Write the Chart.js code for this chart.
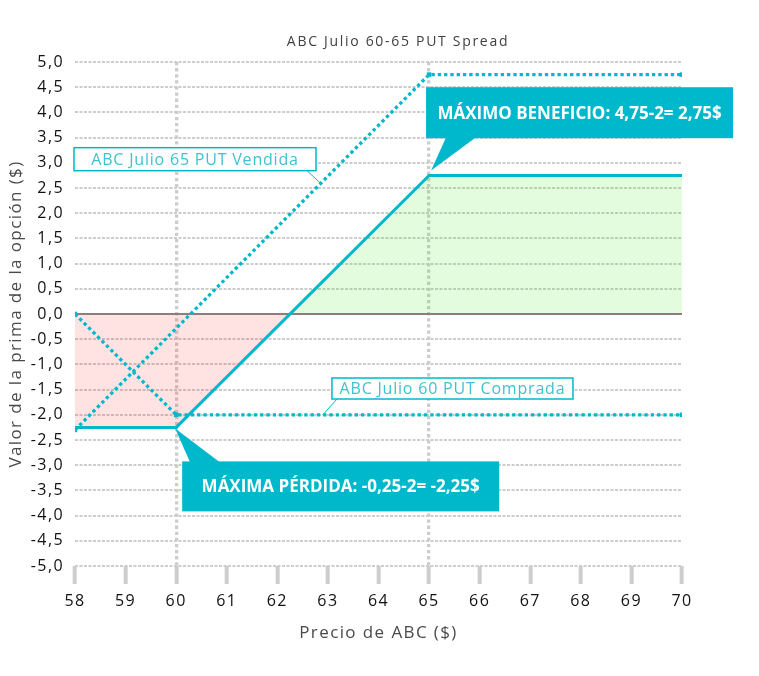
<!DOCTYPE html>
<html>
<head>
<meta charset="utf-8">
<script src="https://cdn.jsdelivr.net/npm/chart.js@4.4.0/dist/chart.umd.min.js"></script>
<style>
    html, body { margin: 0; padding: 0; background: #fff; }
    #chart { display: block; }
</style>
</head>
<body>
<canvas id="chart" width="759" height="676"></canvas>
<script>
const chartTitle = 'ABC Julio 60-65 PUT Spread';
const xTitle = 'Precio de ABC ($)';
const yTitle = 'Valor de la prima de la opción ($)';

// --- Data ---
const spreadPrices = [58, 60, 65, 70];
const spreadValues = [-2.25, -2.25, 2.75, 2.75];
const shortPutPrices = [58, 65, 70];
const shortPutValues = [-2.3, 4.75, 4.75];
const longPutPrices = [58, 60, 70];
const longPutValues = [0, -2, -2];
const zeroPrices = [58, 70];
const zeroValues = [0, 0];
const strikePrices = [60, 65];

const shortPutLabel = 'ABC Julio 65 PUT Vendida';
const longPutLabel = 'ABC Julio 60 PUT Comprada';
const profitText = 'MÁXIMO BENEFICIO: 4,75-2= 2,75$';
const lossText = 'MÁXIMA PÉRDIDA: -0,25-2= -2,25$';

const TEAL = '#00b8cc';
const GRID = '#cdcdcd';
const FONT = "'Open Sans', sans-serif";

const toPoints = (xs, ys) => xs.map((x, i) => ({ x, y: ys[i] }));

// wider letters, closer to the original geometric font
const spacingPlugin = {
    id: 'spacing',
    beforeLayout(chart) { chart.ctx.letterSpacing = '1.4px'; },
    beforeDraw(chart) { chart.ctx.letterSpacing = '1.4px'; }
};

// --- Title, callouts & label boxes ---
const calloutPlugin = {
    id: 'callouts',
    afterDatasetsDraw(chart) {
        const { ctx, scales: { x, y } } = chart;
        ctx.save();

        ctx.letterSpacing = '1.7px';
        ctx.fillStyle = '#404040';
        ctx.font = `14px ${FONT}`;
        ctx.textAlign = 'center';
        ctx.textBaseline = 'middle';
        ctx.fillText(chartTitle, 398, 42);

        const drawCallout = (tipX, tipY, left, top, w, h, baseA, baseB, baseY, text) => {
            ctx.fillStyle = TEAL;
            ctx.fillRect(left, top, w, h);
            ctx.beginPath();
            ctx.moveTo(tipX, tipY);
            ctx.lineTo(baseA, baseY);
            ctx.lineTo(baseB, baseY);
            ctx.closePath();
            ctx.fill();
            ctx.fillStyle = '#fff';
            ctx.letterSpacing = '0px';
            ctx.font = `bold 17px ${FONT}`;
            ctx.textAlign = 'center';
            ctx.textBaseline = 'middle';
            ctx.fillText(text, left + w / 2, top + h / 2 + 1);
        };

        // max profit
        const p1x = x.getPixelForValue(spreadPrices[2]);
        const p1y = y.getPixelForValue(spreadValues[2]);
        const b1l = p1x - 3, b1t = y.getPixelForValue(4.5);
        drawCallout(p1x + 2, p1y - 5, b1l, b1t, 307, 51, b1l + 20, b1l + 50, b1t + 50, profitText);

        // max loss
        const p2x = x.getPixelForValue(spreadPrices[1]);
        const p2y = y.getPixelForValue(spreadValues[1]);
        const b2l = p2x + 6, b2t = p2y + 34;
        drawCallout(p2x - 1, p2y + 1, b2l, b2t, 317, 50, b2l + 8, b2l + 38, b2t + 1, lossText);

        const drawLabel = (left, top, w, h, endX, endY, fromX, fromY, text) => {
            ctx.strokeStyle = TEAL;
            ctx.lineWidth = 1;
            ctx.beginPath();
            ctx.moveTo(fromX, fromY);
            ctx.lineTo(endX, endY);
            ctx.stroke();
            ctx.fillStyle = '#fff';
            ctx.fillRect(left, top, w, h);
            ctx.lineWidth = 1.5;
            ctx.strokeRect(left, top, w, h);
            ctx.fillStyle = '#3cc3d3';
            ctx.letterSpacing = '0.8px';
            ctx.font = `16px ${FONT}`;
            ctx.textAlign = 'center';
            ctx.textBaseline = 'middle';
            ctx.fillText(text, left + w / 2, top + h / 2 + 1);
        };

        const l1l = x.getPixelForValue(58) - 1, l1t = y.getPixelForValue(3.3);
        drawLabel(l1l, l1t, 242, 23,
            x.getPixelForValue(62.85), y.getPixelForValue(2.6), l1l + 233, l1t + 23, shortPutLabel);

        const l2l = x.getPixelForValue(63.08), l2t = y.getPixelForValue(-1.27);
        drawLabel(l2l, l2t, 241, 21,
            x.getPixelForValue(62.9), y.getPixelForValue(-2), l2l + 5, l2t + 21, longPutLabel);

        ctx.restore();
    }
};

const dotted = {
    borderColor: TEAL,
    borderWidth: 3.3,
    borderDash: [3.3, 3],
    borderCapStyle: 'butt',
    pointStyle: 'rect',
    pointRadius: 3.2,
    pointBackgroundColor: TEAL,
    pointBorderWidth: 0,
    fill: false
};

new Chart(document.getElementById('chart'), {
    type: 'line',
    data: {
        datasets: [
            {
                label: 'Spread',
                data: toPoints(spreadPrices, spreadValues),
                borderColor: TEAL,
                borderWidth: 3,
                pointRadius: 0,
                fill: { target: 'origin', above: 'rgba(75,235,35,0.15)', below: 'rgba(255,0,0,0.11)' }
            },
            { label: shortPutLabel, data: toPoints(shortPutPrices, shortPutValues), ...dotted },
            { label: longPutLabel, data: toPoints(longPutPrices, longPutValues), ...dotted },
            {
                label: 'cero',
                data: toPoints(zeroPrices, zeroValues),
                borderColor: '#8c7e7e',
                borderWidth: 2,
                pointRadius: 0,
                fill: false
            }
        ]
    },
    options: {
        responsive: false,
        animation: false,
        layout: { padding: { left: 0, right: 77, top: 62, bottom: 0 } },
        plugins: {
            legend: { display: false },
            tooltip: { enabled: false },
            filler: { drawTime: 'beforeDatasetsDraw' },
            title: { display: false }
        },
        scales: {
            x: {
                type: 'linear',
                min: 58,
                max: 70,
                ticks: { stepSize: 1, color: '#111', font: { family: FONT, size: 16 }, padding: 8 },
                grid: {
                    color: (c) => strikePrices.includes(c.tick && c.tick.value) ? GRID : 'rgba(0,0,0,0)',
                    lineWidth: 3.3,
                    tickColor: GRID,
                    tickWidth: 4,
                    tickLength: 18
                },
                border: { display: false, dash: [3.3, 2.8] },
                title: {
                    display: true,
                    text: xTitle,
                    color: '#4a4a4a',
                    font: { family: FONT, size: 17 },
                    padding: { top: 0, bottom: 33 }
                },
                afterFit: (scale) => { scale.height = 110; }
            },
            y: {
                min: -5,
                max: 5,
                ticks: {
                    stepSize: 0.5,
                    color: '#111',
                    font: { family: FONT, size: 16 },
                    padding: 11,
                    callback: (v) => v.toFixed(1).replace('.', ',')
                },
                grid: { color: GRID, lineWidth: 2, drawTicks: false },
                border: { display: false, dash: [3, 1.5] },
                title: {
                    display: true,
                    text: yTitle,
                    color: '#4a4a4a',
                    font: { family: FONT, size: 17 },
                    padding: { top: 6, bottom: 0 }
                },
                afterFit: (scale) => { scale.width = 75; }
            }
        }
    },
    plugins: [spacingPlugin, calloutPlugin]
});
</script>
</body>
</html>
